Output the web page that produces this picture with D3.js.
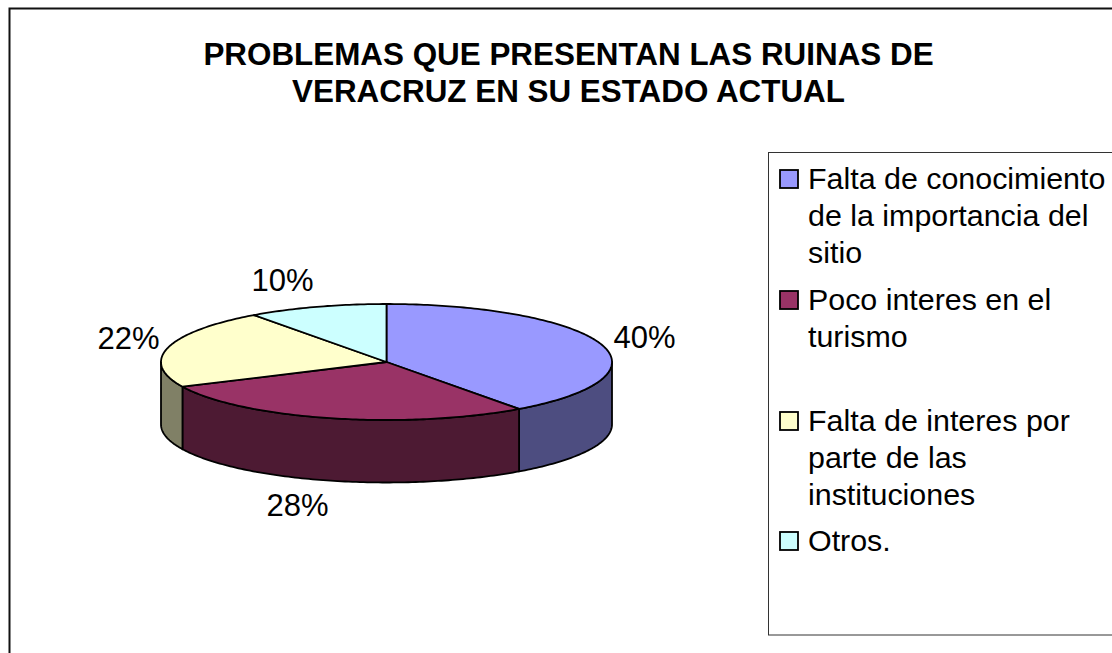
<!DOCTYPE html>
<html><head><meta charset="utf-8">
<script src="https://cdn.jsdelivr.net/npm/d3@7"></script>
<style>html,body{margin:0;background:#fff}svg{display:block}text{font-family:"Liberation Sans",Arial,sans-serif;fill:#000}</style>
</head><body><svg id="c" width="1112" height="653"></svg>
<script>
const categories = ["Falta de conocimiento de la importancia del sitio","Poco interes en el turismo","Falta de interes por parte de las instituciones","Otros."];
const values = [40,28,22,10];
const labels = ["40%","28%","22%","10%"];
const topColors = ["#9999ff","#993366","#ffffcc","#ccffff"];
const sideColors = ["#4d4d80","#4d1a33","#808066","#668080"];
const titleLines = ["PROBLEMAS QUE PRESENTAN LAS RUINAS DE","VERACRUZ EN SU ESTADO ACTUAL"];
const legendLines = [["Falta de conocimiento","de la importancia del","sitio"],["Poco interes en el","turismo"],["Falta de interes por","parte de las","instituciones"],["Otros."]];

const svg = d3.select("#c");
const cx=386.5, cy=362, rx=225.5, ry=58, depth=62.5;
const px = d3.scaleLinear().domain([-1,1]).range([cx-rx,cx+rx]);
const py = d3.scaleLinear().domain([-1,1]).range([cy-ry,cy+ry]);
const P = (a,dz=0)=>[px(Math.sin(a)), py(-Math.cos(a))+dz];
const pie = d3.pie().sort(null).startAngle(0).endAngle(2*Math.PI)(values);
const samples=(a,b)=>{const n=Math.max(2,Math.ceil((b-a)*60));return d3.range(n+1).map(i=>a+(b-a)*i/n);};
const line=d3.line();

// chart frame
svg.append("rect").attr("x",9.5).attr("y",8.5).attr("width",1200).attr("height",800)
  .attr("fill","#fff").attr("stroke","#111").attr("stroke-width",2);

// title
svg.append("g").selectAll("text").data(titleLines).join("text")
  .attr("x",568.5).attr("y",(d,i)=>65+i*37).attr("text-anchor","middle")
  .attr("font-size",31.4).attr("font-weight","bold").text(d=>d);

// walls (front half only)
const wall=svg.append("g");
pie.forEach((s,i)=>{
  const a=Math.max(s.startAngle,Math.PI/2), b=Math.min(s.endAngle,3*Math.PI/2);
  if(b<=a) return;
  const ang=samples(a,b);
  const pts=[...ang.map(t=>P(t)),...ang.slice().reverse().map(t=>P(t,depth))];
  wall.append("path").attr("d",line(pts)+"Z").attr("fill",sideColors[i])
    .attr("stroke","#000").attr("stroke-width",1.8).attr("stroke-linejoin","round");
});

// top faces
svg.append("g").selectAll("path").data(pie).join("path")
  .attr("d",s=>line([[cx,cy],...samples(s.startAngle,s.endAngle).map(t=>P(t))])+"Z")
  .attr("fill",(d,i)=>topColors[i]).attr("stroke","#000").attr("stroke-width",1.8).attr("stroke-linejoin","round");

// data labels
const labelPos=[[644.5,337],[297.5,505],[128.5,338],[282.5,280]];
svg.append("g").selectAll("text").data(labels).join("text")
  .attr("x",(d,i)=>labelPos[i][0]).attr("y",(d,i)=>labelPos[i][1])
  .attr("dy","0.36em").attr("text-anchor","middle").attr("font-size",31).text(d=>d);

// legend
svg.append("rect").attr("x",768.5).attr("y",152.5).attr("width",400).attr("height",482.5)
  .attr("fill","#fff").attr("stroke","#333").attr("stroke-width",1);
const firstBase=[187,308,429,549], step=37;
const textShift=1.5;
const lg=svg.append("g").selectAll("g").data(categories).join("g");
lg.append("rect").attr("x",780).attr("y",(d,i)=>firstBase[i]-17).attr("width",18).attr("height",18)
  .attr("fill",(d,i)=>topColors[i]).attr("stroke","#000").attr("stroke-width",1.8);
lg.each(function(d,i){
  d3.select(this).selectAll("text").data(legendLines[i]).join("text")
    .attr("x",808).attr("y",(t,j)=>firstBase[i]+textShift+j*step).attr("font-size",30.4).text(t=>t);
});
</script></body></html>
